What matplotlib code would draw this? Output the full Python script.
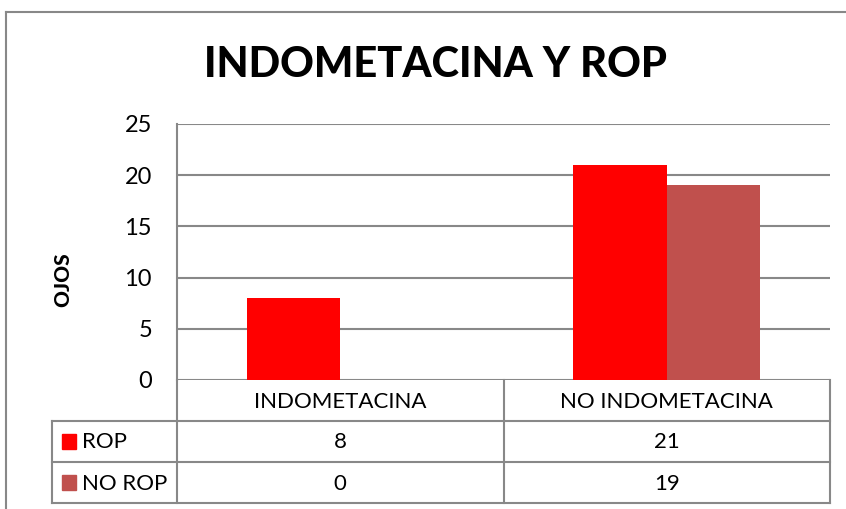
import matplotlib
matplotlib.use("Agg")
import matplotlib.pyplot as plt
from matplotlib.patches import Rectangle
from matplotlib.lines import Line2D

categories = ["INDOMETACINA", "NO INDOMETACINA"]
series_names = ["ROP", "NO ROP"]
rop = [8, 21]
no_rop = [0, 19]
yticks = [0, 5, 10, 15, 20, 25]
title = "INDOMETACINA Y ROP"
ylabel = "OJOS"

colors = ["#FF0000", "#C0504D"]
grid_c = "#888888"
FONT = ["Lato", "DejaVu Sans"]
plt.rcParams['font.family'] = FONT

W, H = 846, 509
fig = plt.figure(figsize=(W / 100, H / 100), dpi=100)

# overlay axes in pixel coords
ov = fig.add_axes([0, 0, 1, 1])
ov.set_xlim(0, W)
ov.set_ylim(H, 0)
ov.axis("off")

# main plot area
L, R, T, B = 177, 830, 124, 380
ax = fig.add_axes([L / W, (H - B) / H, (R - L) / W, (B - T) / H])
bw = 0.286
xs = list(range(len(categories)))
ax.bar([x - bw / 2 for x in xs], rop, width=bw, color=colors[0], zorder=3)
ax.bar([x + bw / 2 for x in xs], no_rop, width=bw, color=colors[1], zorder=3)
ax.set_xlim(-0.5, len(categories) - 0.5)
ax.set_ylim(0, 25)
ax.set_yticks(yticks)
ax.set_yticklabels([str(t) for t in yticks], fontsize=17)
ax.tick_params(axis="y", length=0, pad=18)
ax.set_xticks([])
for s in ["top", "right", "bottom"]:
    ax.spines[s].set_visible(False)
ax.spines["left"].set_color(grid_c)
ax.spines["left"].set_linewidth(1.5)
ax.yaxis.grid(True, color=grid_c, linewidth=1.5, zorder=0)
ax.set_axisbelow(True)
ax.patch.set_alpha(0)

# title and y label
ov.text(435, 65, title, ha="center", va="center", fontsize=30, fontweight="black")
ov.text(63, 280, ylabel, ha="center", va="center", rotation=90, fontsize=15, fontweight="black")

# outer frame
ov.add_line(Line2D([6, 6], [12, H], color=grid_c, lw=1.5))
ov.add_line(Line2D([6, W], [12, 12], color=grid_c, lw=1.5))

# data table
cols = [L, (L + R) / 2, R]
rows = [B, 421, 462, 503]
lab_left = 52
lc = grid_c
lw = 1.5
for x in cols:
    ov.add_line(Line2D([x, x], [B, rows[-1]], color=lc, lw=lw))
ov.add_line(Line2D([lab_left, lab_left], [rows[1], rows[-1]], color=lc, lw=lw))
for y in rows[1:]:
    ov.add_line(Line2D([lab_left, R], [y, y], color=lc, lw=lw))

for i, c in enumerate(categories):
    ov.text((cols[i] + cols[i + 1]) / 2, (rows[0] + rows[1]) / 2 + 1, c,
            ha="center", va="center", fontsize=16)
vals = [rop, no_rop]
for r in range(2):
    yc = (rows[r + 1] + rows[r + 2]) / 2
    ov.add_patch(Rectangle((62, yc - 7.5), 14, 15, color=colors[r]))
    ov.text(82, yc + 1, series_names[r], ha="left", va="center", fontsize=16)
    for i in range(len(categories)):
        ov.text((cols[i] + cols[i + 1]) / 2, yc + 1, str(vals[r][i]),
                ha="center", va="center", fontsize=16)

fig.savefig("out.png", dpi=100)
